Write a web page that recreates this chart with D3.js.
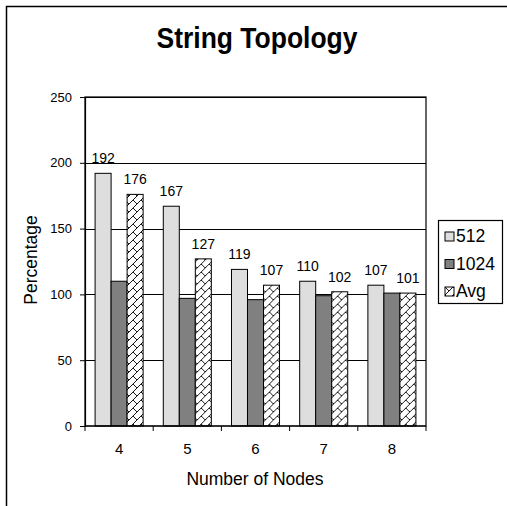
<!DOCTYPE html>
<html>
<head>
<meta charset="utf-8">
<script src="https://cdn.jsdelivr.net/npm/d3@7"></script>
<style>
  html, body { margin: 0; padding: 0; background: #fff; }
  text { font-family: "Liberation Sans", Arial, sans-serif; fill: #000; }
</style>
</head>
<body>
<div id="chart"></div>
<script>
// chart data
const nodes = ["4", "5", "6", "7", "8"];
const seriesNames = ["512", "1024", "Avg"];
const vals512 = [192, 167, 119, 110, 107];
const vals1024 = [110, 97, 96, 99, 101];
const valsAvg = [176, 127, 107, 102, 101];
const yTicks = [0, 50, 100, 150, 200, 250];
const labelled = ["512", "Avg"]; // series with value labels

const width = 507, height = 506;
const plot = {left: 85, right: 426, top: 97, bottom: 426};

const svg = d3.select("#chart").append("svg")
    .attr("width", width)
    .attr("height", height);

svg.append("rect").attr("width", width).attr("height", height).attr("fill", "#fff");

// hatch for the Avg series
const defs = svg.append("defs");
const pat = defs.append("pattern")
    .attr("id", "shingle")
    .attr("patternUnits", "userSpaceOnUse")
    .attr("width", 8).attr("height", 8);
pat.append("rect").attr("width", 8).attr("height", 8).attr("fill", "#fff");
pat.append("path")
    .attr("d", "M-1,9 L9,-1 M0,0 L4,4")
    .attr("stroke", "#000").attr("stroke-width", 0.9).attr("fill", "none");

const fills = {"512": "#dedede", "1024": "#808080", "Avg": "url(#shingle)"};

// outer frame (only top/left visible in the crop)
svg.append("rect")
    .attr("x", 6.5).attr("y", 6.5)
    .attr("width", 700).attr("height", 700)
    .attr("fill", "none").attr("stroke", "#000").attr("stroke-width", 1.5);

const x0 = d3.scaleBand().domain(nodes).range([plot.left, plot.right]).padding(0);
const x1 = d3.scaleBand().domain(seriesNames).range([0, x0.bandwidth()])
    .paddingInner(0).paddingOuter(0.63);
const y = d3.scaleLinear().domain([0, 250]).range([plot.bottom, plot.top]);

const data = nodes.map((n, i) => ({
  node: n,
  values: [
    {key: "512", value: vals512[i]},
    {key: "1024", value: vals1024[i]},
    {key: "Avg", value: valsAvg[i]}
  ]
}));

// gridlines
svg.append("g")
  .selectAll("line")
  .data(yTicks.filter(d => d > 0))
  .join("line")
    .attr("x1", plot.left).attr("x2", plot.right)
    .attr("y1", d => Math.round(y(d)) + 0.5).attr("y2", d => Math.round(y(d)) + 0.5)
    .attr("stroke", "#000").attr("stroke-width", 1);

// bars
const groups = svg.append("g")
  .selectAll("g")
  .data(data)
  .join("g")
    .attr("transform", d => `translate(${x0(d.node)},0)`);

groups.selectAll("rect")
  .data(d => d.values)
  .join("rect")
    .attr("x", d => x1(d.key))
    .attr("y", d => y(d.value))
    .attr("width", x1.bandwidth())
    .attr("height", d => y(0) - y(d.value))
    .attr("fill", d => fills[d.key])
    .attr("stroke", "#000").attr("stroke-width", 1);

groups.selectAll("text")
  .data(d => d.values.filter(v => labelled.includes(v.key)))
  .join("text")
    .attr("x", d => x1(d.key) + x1.bandwidth() / 2)
    .attr("y", d => y(d.value) - 10)
    .attr("text-anchor", "middle")
    .attr("font-size", 14)
    .text(d => d.value);

// plot border
svg.append("rect")
    .attr("x", plot.left).attr("y", plot.top)
    .attr("width", plot.right - plot.left).attr("height", plot.bottom - plot.top)
    .attr("fill", "none").attr("stroke", "#000").attr("stroke-width", 1.2);

// y axis
const yAxis = svg.append("g")
    .attr("transform", `translate(${plot.left},0)`)
    .call(d3.axisLeft(y).tickValues(yTicks).tickSize(5).tickPadding(8));
yAxis.select(".domain").attr("stroke-width", 1.2);
yAxis.selectAll("text").attr("font-size", 13).attr("font-family", "Liberation Sans, Arial, sans-serif");

// x axis: ticks between categories
const xAxis = svg.append("g")
    .attr("transform", `translate(0,${plot.bottom})`);
xAxis.append("line")
    .attr("x1", plot.left).attr("x2", plot.right)
    .attr("stroke", "#000").attr("stroke-width", 1.2);
xAxis.selectAll("line.tick")
  .data(nodes.concat(["end"]))
  .join("line")
    .attr("class", "tick")
    .attr("x1", (d, i) => i < nodes.length ? x0(d) : plot.right)
    .attr("x2", (d, i) => i < nodes.length ? x0(d) : plot.right)
    .attr("y1", 0).attr("y2", 5)
    .attr("stroke", "#000");
xAxis.selectAll("text")
  .data(nodes)
  .join("text")
    .attr("x", d => x0(d) + x0.bandwidth() / 2)
    .attr("y", 28)
    .attr("text-anchor", "middle")
    .attr("font-size", 15)
    .text(d => d);

// titles
svg.append("text")
    .attr("x", 257).attr("y", 48)
    .attr("text-anchor", "middle")
    .attr("font-size", 29).attr("font-weight", "bold")
    .attr("textLength", 201).attr("lengthAdjust", "spacingAndGlyphs")
    .text("String Topology");

svg.append("text")
    .attr("x", 255).attr("y", 485)
    .attr("text-anchor", "middle")
    .attr("font-size", 17.5)
    .text("Number of Nodes");

svg.append("text")
    .attr("transform", "translate(37,260) rotate(-90)")
    .attr("text-anchor", "middle")
    .attr("font-size", 17.5)
    .text("Percentage");

// legend
const legend = svg.append("g");
legend.append("rect")
    .attr("x", 438.5).attr("y", 220.5)
    .attr("width", 64).attr("height", 83)
    .attr("fill", "#fff").attr("stroke", "#000").attr("stroke-width", 1.2);
const item = legend.selectAll("g.item")
  .data(seriesNames)
  .join("g")
    .attr("class", "item")
    .attr("transform", (d, i) => `translate(445,${232 + i * 27.5})`);
item.append("rect")
    .attr("width", 9).attr("height", 9)
    .attr("fill", d => fills[d])
    .attr("stroke", "#000").attr("stroke-width", 1);
item.append("text")
    .attr("x", 11).attr("y", 10)
    .attr("font-size", 17.5)
    .text(d => d);
</script>
</body>
</html>
